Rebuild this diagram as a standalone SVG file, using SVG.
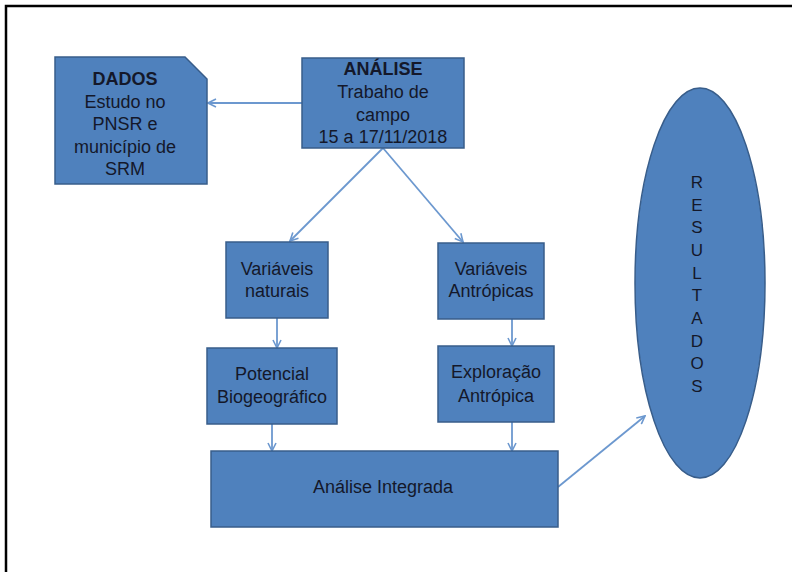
<svg xmlns="http://www.w3.org/2000/svg" width="792" height="572" viewBox="0 0 792 572">
<defs>
<style>
.box{fill:#4F81BD;stroke:#385D8A;stroke-width:1.5}
.t{font-family:"Liberation Sans",Arial,sans-serif;font-size:18px;fill:#14182a;text-anchor:middle}
.r{font-size:17px}
.b{font-weight:bold}
.c{fill:none;stroke:#6C98CF;stroke-width:1.8}
</style>
<marker id="ah" viewBox="0 0 10 10" refX="9" refY="5" markerWidth="10" markerHeight="10" markerUnits="userSpaceOnUse" orient="auto">
<path d="M1,1 L9,5 L1,9" fill="none" stroke="#6C98CF" stroke-width="1.6"/>
</marker>
</defs>
<rect width="792" height="572" fill="#fff"/>
<path d="M6,572 V6 H792" fill="none" stroke="#000" stroke-width="2.5"/>
<g id="connectors">
<line class="c" x1="302" y1="103" x2="208" y2="103" marker-end="url(#ah)"/>
<line class="c" x1="383" y1="148" x2="290" y2="241" marker-end="url(#ah)"/>
<line class="c" x1="383" y1="148" x2="463" y2="242" marker-end="url(#ah)"/>
<line class="c" x1="277" y1="318" x2="277" y2="348" marker-end="url(#ah)"/>
<line class="c" x1="512" y1="319" x2="512" y2="346" marker-end="url(#ah)"/>
<line class="c" x1="272" y1="424" x2="272" y2="451" marker-end="url(#ah)"/>
<line class="c" x1="512" y1="422" x2="512" y2="451" marker-end="url(#ah)"/>
<line class="c" x1="558" y1="487" x2="645" y2="416" marker-end="url(#ah)"/>
</g>
<g id="dados">
<path class="box" d="M55,57 H185 L207,79 V184 H55 Z"/>
<text class="t b" x="125" y="85">DADOS</text>
<text class="t" x="125" y="107.5">Estudo no</text>
<text class="t" x="125" y="130">PNSR e</text>
<text class="t" x="125" y="152.5">município de</text>
<text class="t" x="125" y="175">SRM</text>
</g>
<g id="analise">
<rect class="box" x="302" y="58" width="162" height="90"/>
<text class="t b" x="383" y="75">ANÁLISE</text>
<text class="t" x="383" y="98">Trabaho de</text>
<text class="t" x="383" y="121">campo</text>
<text class="t" x="383" y="143">15 a 17/11/2018</text>
</g>
<g id="var-naturais">
<rect class="box" x="226" y="242" width="102" height="76"/>
<text class="t" x="277" y="275">Variáveis</text>
<text class="t" x="277" y="297">naturais</text>
</g>
<g id="var-antropicas">
<rect class="box" x="438" y="243" width="106" height="76"/>
<text class="t" x="491" y="275">Variáveis</text>
<text class="t" x="491" y="297">Antrópicas</text>
</g>
<g id="potencial">
<rect class="box" x="207" y="348" width="130" height="76"/>
<text class="t" x="272" y="380">Potencial</text>
<text class="t" x="272" y="403">Biogeográfico</text>
</g>
<g id="exploracao">
<rect class="box" x="438" y="346" width="116" height="76"/>
<text class="t" x="496" y="378">Exploração</text>
<text class="t" x="496" y="402">Antrópica</text>
</g>
<g id="integrada">
<rect class="box" x="211" y="451" width="347" height="76"/>
<text class="t" x="383" y="493">Análise Integrada</text>
</g>
<g id="resultados">
<ellipse class="box" cx="700" cy="283" rx="65" ry="195"/>
<text class="t r" x="697" y="188">R</text>
<text class="t r" x="697" y="210.7">E</text>
<text class="t r" x="697" y="233.3">S</text>
<text class="t r" x="697" y="256">U</text>
<text class="t r" x="697" y="278.7">L</text>
<text class="t r" x="697" y="301.3">T</text>
<text class="t r" x="697" y="324">A</text>
<text class="t r" x="697" y="346.7">D</text>
<text class="t r" x="697" y="369.3">O</text>
<text class="t r" x="697" y="392">S</text>
</g>
</svg>
